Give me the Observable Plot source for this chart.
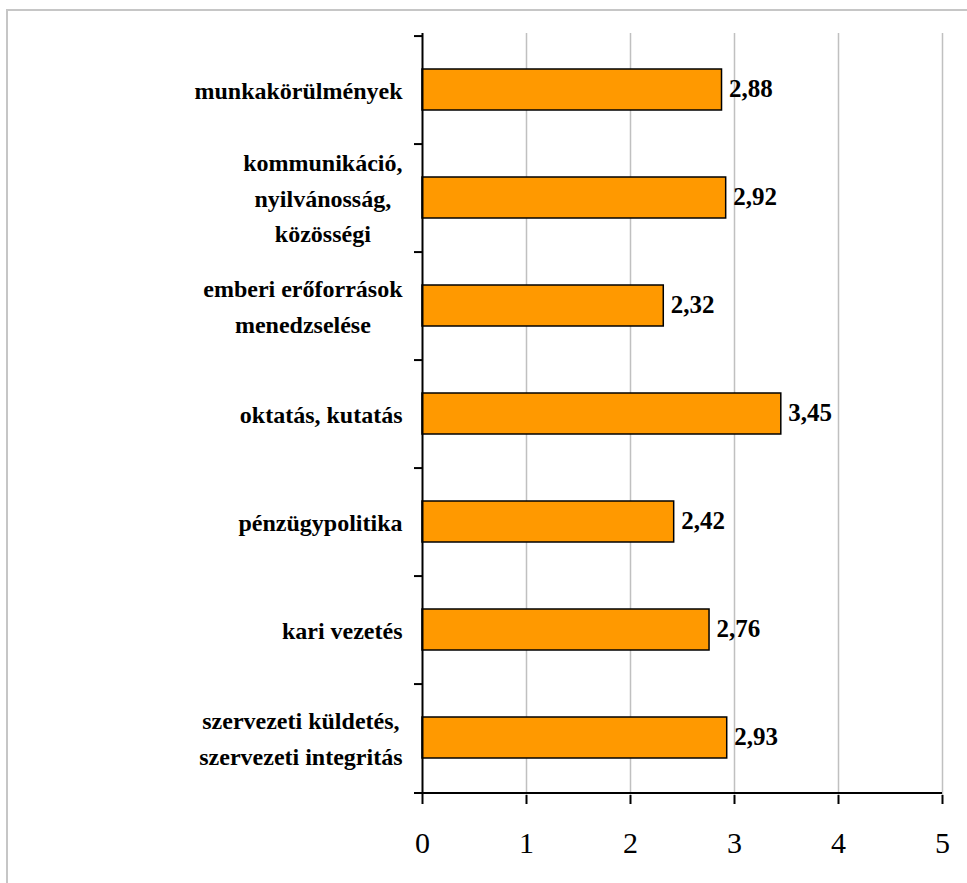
<!DOCTYPE html>
<html>
<head>
<meta charset="utf-8">
<script src="https://cdn.jsdelivr.net/npm/d3@7"></script>
<script src="https://cdn.jsdelivr.net/npm/@observablehq/plot@0.6"></script>
<style>
  html, body { margin: 0; padding: 0; background: white; overflow: hidden; }
  #wrap { position: relative; width: 967px; height: 883px; }
  #frame { position: absolute; left: 6px; top: 9px; width: 1000px; height: 900px;
           border-left: 2px solid #c6c6c6; border-top: 2px solid #c6c6c6; pointer-events: none; }
  svg { display: block; }
  svg text { font-family: 'Liberation Serif', 'Times New Roman', serif; }
</style>
</head>
<body>
<div id="wrap"><div id="frame"></div></div>
<script>
const categories = [
  "munkakörülmények",
  "kommunikáció,\nnyilvánosság,\nközösségi",
  "emberi erőforrások\nmenedzselése",
  "oktatás, kutatás",
  "pénzügypolitika",
  "kari vezetés",
  "szervezeti küldetés,\nszervezeti integritás"
];
const values = [2.88, 2.92, 2.32, 3.45, 2.42, 2.76, 2.93];
const valueLabels = ["2,88", "2,92", "2,32", "3,45", "2,42", "2,76", "2,93"];
const xTicks = [0, 1, 2, 3, 4, 5];

const data = categories.map((c, i) => ({category: c, value: values[i], label: valueLabels[i]}));

const W = 967, H = 883, mL = 422, mR = 25, mT = 33, mB = 88;
const bw = (H - mT - mB) / categories.length;
const unit = (W - mL - mR) / 5;
const catFont = 24;
const serif = "'Liberation Serif', 'Times New Roman', serif";

const ctx = document.createElement("canvas").getContext("2d");
ctx.font = `bold ${catFont}px 'Liberation Serif'`;
const catMarks = categories.map(c => {
  const maxW = d3.max(c.split("\n"), l => ctx.measureText(l).width);
  return Plot.text([c], {
    x: 0, y: d => d, text: d => d,
    textAnchor: "middle", dx: -(20 + maxW / 2), dy: -3,
    fontFamily: serif, fontWeight: "bold", fontSize: catFont, lineHeight: 1.48, fill: "black"
  });
});

const chart = Plot.plot({
  width: W, height: H,
  marginLeft: mL, marginRight: mR, marginTop: mT, marginBottom: mB,
  style: {fontFamily: serif, background: "transparent", color: "black"},
  x: {domain: [0, 5], axis: null},
  y: {domain: categories, axis: null, padding: 0},
  marks: [
    Plot.gridX(xTicks.filter(t => t > 0), {stroke: "#c0c0c0", strokeOpacity: 1, strokeWidth: 1.5}),
    Plot.barX(data, {x: "value", y: "category", fill: "#ff9900", stroke: "black", strokeWidth: 1.5,
                     insetTop: 33, insetBottom: 34}),
    Plot.ruleX([0], {stroke: "black", strokeWidth: 2}),
    Plot.ruleY(data, {y: "category", x1: -8 / unit, x2: 0, dy: -bw / 2, stroke: "black", strokeWidth: 2}),
    Plot.ruleY([categories[categories.length - 1]], {y: d => d, x1: -8 / unit, x2: 5, dy: bw / 2,
                     stroke: "black", strokeWidth: 2}),
    Plot.axisX(xTicks, {tickSize: 9, tickPadding: 27, fontSize: 30, strokeWidth: 2, label: null,
                        fontFamily: serif, tickFormat: d => String(d)}),
    Plot.text(data, {x: "value", y: "category", text: "label", textAnchor: "start", dx: 7, dy: -2,
                     fontFamily: serif, fontWeight: "bold", fontSize: 25, fill: "black"}),
    ...catMarks
  ]
});
document.getElementById("wrap").insertBefore(chart, document.getElementById("frame"));
</script>
</body>
</html>
